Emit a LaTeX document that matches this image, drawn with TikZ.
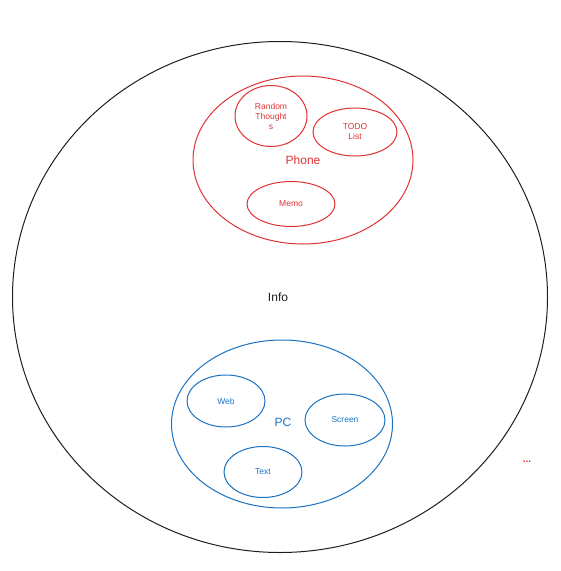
\documentclass[tikz,border=0pt]{standalone}
\usepackage{fontspec}
\setmainfont{Liberation Sans}
\usetikzlibrary{shapes.geometric}
\definecolor{exred}{HTML}{E03131}
\definecolor{exblue}{HTML}{1971C2}
\definecolor{exblack}{HTML}{1E1E1E}
\tikzset{
  x=1pt, y=-1pt,
  blob/.style={ellipse, draw, line width=1pt, inner sep=0pt, align=center},
  redblob/.style={blob, draw=exred, text=exred, font=\fontsize{8.5}{10}\selectfont},
  blueblob/.style={blob, draw=exblue, text=exblue, font=\fontsize{8.5}{10}\selectfont},
  biglabel/.style={font=\fontsize{12}{13}\selectfont},
}
\begin{document}
\begin{tikzpicture}
\useasboundingbox (0,0) rectangle (561,571);
% outer circle
\node[blob, draw=exblack, minimum width=535pt, minimum height=511pt] (info) at (280,297) {};
\node[biglabel, text=exblack] (infolabel) at (278,297) {Info};
% Phone group
\node[blob, draw=exred, minimum width=220pt, minimum height=168pt] (phone) at (303,160) {};
\node[biglabel, text=exred] (phonelabel) at (303,160) {Phone};
\node[redblob, minimum width=72pt, minimum height=61pt] (random) at (271,116) {Random\\Thought\\s};
\node[redblob, minimum width=84pt, minimum height=48pt] (todo) at (355,132) {TODO\\List};
\node[redblob, minimum width=88pt, minimum height=45pt] (memo) at (291,204) {Memo};
% PC group
\node[blob, draw=exblue, minimum width=221pt, minimum height=168pt] (pc) at (282,424) {};
\node[biglabel, text=exblue] (pclabel) at (283,422) {PC};
\node[blueblob, minimum width=78pt, minimum height=52pt] (web) at (226,401) {Web};
\node[blueblob, minimum width=80pt, minimum height=52pt] (screen) at (345,420) {Screen};
\node[blueblob, minimum width=78pt, minimum height=51pt] (text) at (263,472) {Text};
% stray ellipsis
\node[text=exred, font=\fontsize{10}{11}\bfseries] (dots) at (527,462) {...};
\end{tikzpicture}
\end{document}
